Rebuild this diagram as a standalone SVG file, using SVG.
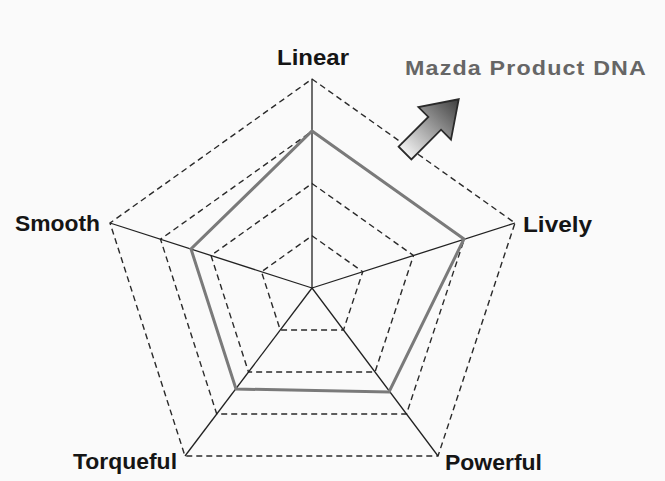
<svg xmlns="http://www.w3.org/2000/svg" width="665" height="481" viewBox="0 0 665 481">
  <style>
    .grid { fill: none; stroke: #2a2a2a; stroke-width: 1.4; stroke-dasharray: 6 4; }
    .axis { stroke: #222; stroke-width: 1.3; fill: none; }
    .data { fill: none; stroke: #7a7a7a; stroke-width: 3; stroke-linejoin: miter; }
    .label { font-family: "Liberation Sans", Arial, sans-serif; font-size: 22px; font-weight: bold; fill: #151515; }
    .title { font-family: "Liberation Sans", Arial, sans-serif; font-size: 20px; font-weight: bold; fill: #666; letter-spacing: 1px; }
  </style>
  <defs>
    <linearGradient id="arrowFill" gradientUnits="userSpaceOnUse" x1="0" y1="0" x2="76" y2="0">
      <stop offset="0" stop-color="#f2f2f2"/>
      <stop offset="1" stop-color="#3e3e3e"/>
    </linearGradient>
  </defs>

  <rect width="665" height="481" fill="#fafafa"/>

  <!-- dashed grid rings at 25/50/75/100 % -->
  <g id="grid">
    <polygon class="grid" points="312,235.75 362.75,271.75 343.5,330 280.25,330 261.5,271.75"/>
    <polygon class="grid" points="312,183.5 413.5,255.5 375,372 248.5,372 211,255.5"/>
    <polygon class="grid" points="312,131.25 464.25,239.25 406.5,414 216.75,414 160.5,239.25"/>
    <polygon class="grid" points="312,79 515,223 438,456 185,456 110,223"/>
  </g>

  <!-- axes from the centre -->
  <g id="connectors">
    <line class="axis" x1="312" y1="288" x2="312" y2="79"/>
    <line class="axis" x1="312" y1="288" x2="515" y2="223"/>
    <line class="axis" x1="312" y1="288" x2="438" y2="456"/>
    <line class="axis" x1="312" y1="288" x2="185" y2="456"/>
    <line class="axis" x1="312" y1="288" x2="110" y2="223"/>
  </g>

  <!-- profile -->
  <g id="profile">
    <polygon class="data" points="312,131 464,239 389,392 236,389 191,249"/>
  </g>

  <!-- axis labels -->
  <g id="linear"><text class="label" x="313" y="65" text-anchor="middle" textLength="72" lengthAdjust="spacingAndGlyphs">Linear</text></g>
  <g id="lively"><text class="label" x="523" y="232" textLength="69" lengthAdjust="spacingAndGlyphs">Lively</text></g>
  <g id="powerful"><text class="label" x="445" y="470" textLength="97" lengthAdjust="spacingAndGlyphs">Powerful</text></g>
  <g id="torqueful"><text class="label" x="73" y="469" textLength="104" lengthAdjust="spacingAndGlyphs">Torqueful</text></g>
  <g id="smooth"><text class="label" x="15" y="231" textLength="85" lengthAdjust="spacingAndGlyphs">Smooth</text></g>

  <!-- title with direction arrow -->
  <g id="title">
    <text class="title" x="405" y="75" textLength="242" lengthAdjust="spacingAndGlyphs">Mazda Product DNA</text>
    <path transform="translate(405,153) rotate(-45)" d="M0,-9 L42,-9 L42,-23 L76,0 L42,23 L42,9 L0,9 Z" fill="url(#arrowFill)" stroke="#2a2a2a" stroke-width="1.8" stroke-linejoin="miter"/>
  </g>
</svg>
